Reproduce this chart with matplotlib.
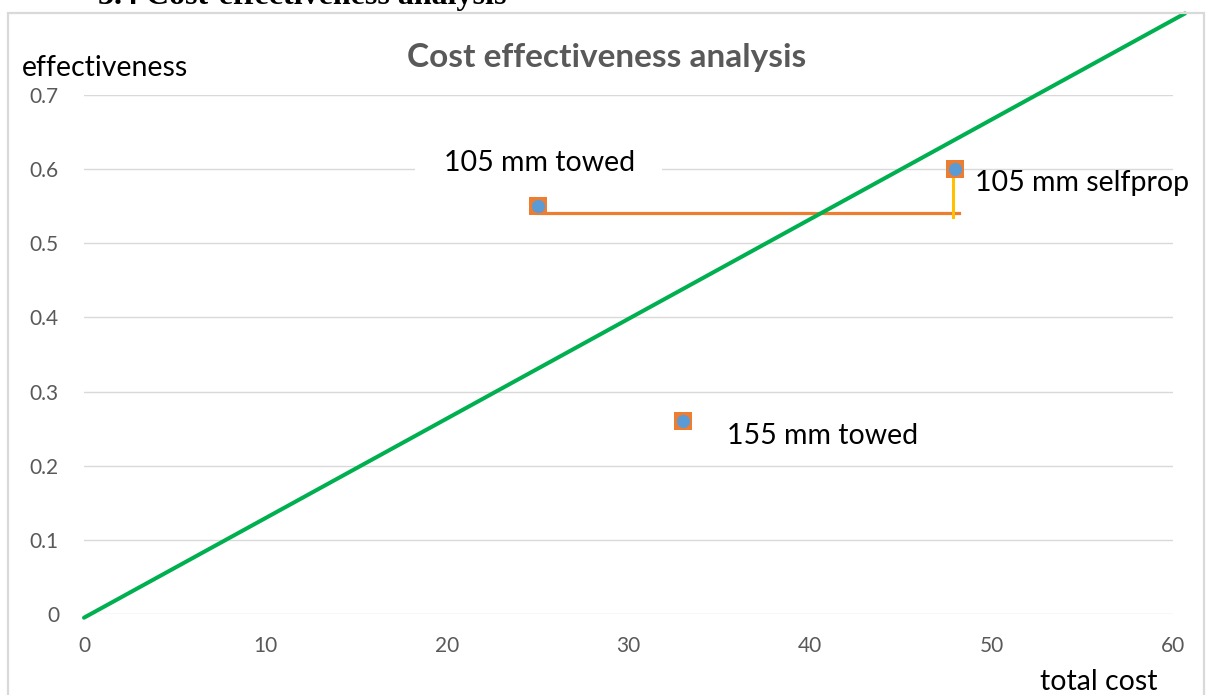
import matplotlib
matplotlib.use("Agg")
import matplotlib.pyplot as plt
from matplotlib.patches import Rectangle

# Data
options = ["105 mm towed", "105 mm selfprop", "155 mm towed"]
total_cost = [25, 48, 33]
effectiveness = [0.55, 0.60, 0.26]

# Cost-effectiveness threshold line (through the origin)
threshold_x = [0, 60.66]
threshold_y = [-0.005, 0.81]

# Comparison guides from the towed option to the self-propelled option
horiz_x = [25, 48.2]
horiz_y = [0.541, 0.541]
vert_x = [47.9, 47.9]
vert_y = [0.60, 0.535]

x_ticks = [0, 10, 20, 30, 40, 50, 60]
y_ticks = [0, 0.1, 0.2, 0.3, 0.4, 0.5, 0.6, 0.7]
y_tick_labels = ["0", "0.1", "0.2", "0.3", "0.4", "0.5", "0.6", "0.7"]

W, H = 1206, 695
fig = plt.figure(figsize=(W / 100, H / 100), dpi=100)
fig.patch.set_facecolor("white")

font = ["Lato", "DejaVu Sans"]
gray = "#595959"

# Section heading above the chart (partly cut by the top edge)
fig.text(98 / W, 1 - 4 / H, "3.4 Cost-effectiveness analysis", family="Liberation Serif",
         fontweight="bold", fontsize=23, ha="left", va="baseline", color="black")

# Chart frame
fig.patches.append(Rectangle((8 / W, -0.05), (1204 - 8) / W, 0.05 + (H - 13) / H,
                             transform=fig.transFigure, fill=False,
                             edgecolor="#d9d9d9", linewidth=1.6, zorder=0))

ax = fig.add_axes([84 / W, (H - 614) / H, 1089 / W, 519 / H])
ax.set_xlim(0, 60)
ax.set_ylim(0, 0.7)
for s in ax.spines.values():
    s.set_visible(False)
ax.set_xticks(x_ticks)
ax.set_yticks(y_ticks)
ax.set_yticklabels(y_tick_labels)
ax.tick_params(axis="both", length=0, labelsize=15, labelcolor=gray)
ax.tick_params(axis="x", pad=16)
ax.tick_params(axis="y", pad=18)
for lab in ax.get_xticklabels() + ax.get_yticklabels():
    lab.set_family(font)
ax.yaxis.grid(True, color="#d9d9d9", linewidth=1.0)
ax.set_axisbelow(True)

# White backing behind the "105 mm towed" label, hiding the gridline there
ax.add_patch(Rectangle((18.24, 0.59), 31.85 - 18.24, 0.035, facecolor="white",
                       edgecolor="none", zorder=1))

ax.plot(horiz_x, horiz_y, color="#ed7d31", linewidth=2.3, zorder=2)
ax.plot(vert_x, vert_y, color="#ffc000", linewidth=2.2, zorder=2)
ax.plot(threshold_x, threshold_y, color="#00b050", linewidth=2.9,
        solid_capstyle="round", clip_on=False, zorder=3)

ax.scatter(total_cost, effectiveness, marker="s", s=13.5 ** 2, color="#ed7d31",
           zorder=4, clip_on=False, linewidths=0)
ax.scatter(total_cost, effectiveness, marker="o", s=9.5 ** 2, color="#5b9bd5",
           zorder=5, clip_on=False, linewidths=0)

label_pos = [(25.1, 0.608, "center"), (49.1, 0.581, "left"), (35.4, 0.240, "left")]
for name, (lx, ly, ha) in zip(options, label_pos):
    ax.text(lx, ly, name, family=font, fontsize=20.5, ha=ha, va="center",
            color="black", zorder=6)

fig.text(607 / W, 1 - 58 / H, "Cost effectiveness analysis", family=font,
         fontweight="bold", fontsize=24, ha="center", va="center", color=gray)
fig.text(22 / W, 1 - 68 / H, "effectiveness", family=font, fontsize=20.5,
         ha="left", va="center", color="black")
fig.text(1158 / W, 1 - 682 / H, "total cost", family=font, fontsize=20.5,
         ha="right", va="center", color="black")

fig.savefig("out.png", dpi=100, facecolor="white")
